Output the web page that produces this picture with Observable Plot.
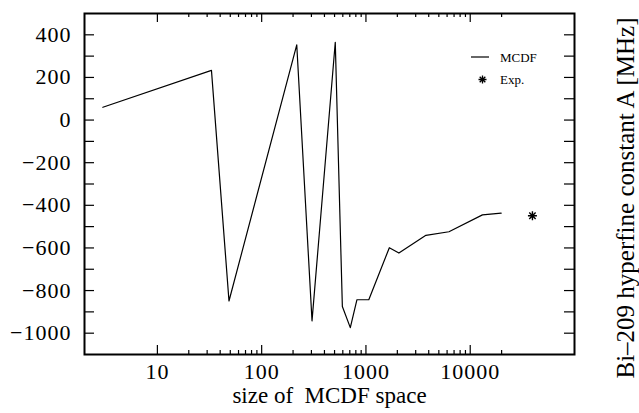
<!DOCTYPE html>
<html><head><meta charset="utf-8">
<script src="https://cdn.jsdelivr.net/npm/d3@7"></script>
<script src="https://cdn.jsdelivr.net/npm/@observablehq/plot@0.6"></script>
<style>
body{margin:0;background:#fff;}
#chart{width:639px;height:413px;}
g[aria-label$="tick label"]{letter-spacing:1px;}
</style></head><body><div id="chart"></div>
<script>
// MCDF calculations: size of MCDF space vs hyperfine constant A [MHz]
const sizes = [3, 33, 48.6, 217, 304, 508, 594, 708, 820, 1065, 1676, 2070, 3760, 6250, 13100, 19800];
const mcdfA = [60, 233, -849, 353, -942, 365, -875, -974, -843, -843, -599, -624, -541, -524, -445, -437];
// Experimental value
const expSize = [39500];
const expA = [-449];
// Ticks
const xTickValues = [10, 100, 1000, 10000];
const xMinorTicks = [20, 30, 40, 50, 60, 70, 80, 90, 200, 300, 400, 500, 600, 700, 800, 900,
  2000, 3000, 4000, 5000, 6000, 7000, 8000, 9000, 20000];
const yTickValues = [400, 200, 0, -200, -400, -600, -800, -1000];
const yAllTicks = [400, 300, 200, 100, 0, -100, -200, -300, -400, -500, -600, -700, -800, -900, -1000];
const xLabel = "size of\u00a0 MCDF space";
const yLabel = "Bi\u2013209 hyperfine constant A [MHz]";
const legendLabels = ["MCDF", "Exp."];

const mcdf = sizes.map((s, i) => ({size: s, A: mcdfA[i]}));
const exp = expSize.map((s, i) => ({size: s, A: expA[i]}));

const W = 639, H = 413, mL = 84, mR = 65, mT = 13, mB = 59;
const fw = W - mL - mR, fh = H - mT - mB;

const star8 = {
  draw(ctx, size) {
    const r = Math.sqrt(size / Math.PI), d = r * Math.SQRT1_2;
    ctx.moveTo(-r, 0); ctx.lineTo(r, 0);
    ctx.moveTo(0, -r); ctx.lineTo(0, r);
    ctx.moveTo(-d, -d); ctx.lineTo(d, d);
    ctx.moveTo(-d, d); ctx.lineTo(d, -d);
  }
};

const chart = Plot.plot({
  width: W, height: H,
  marginLeft: mL, marginRight: mR, marginTop: mT, marginBottom: mB,
  style: {fontFamily: "'Liberation Serif', 'Times New Roman', serif", fontSize: "22px", color: "black", background: "white"},
  x: {type: "log", domain: [2, 100000]},
  y: {domain: [-1100, 500]},
  marks: [
    // inward ticks
    Plot.ruleX(xTickValues, {x: d => d, insetTop: fh - 9, stroke: "black", strokeWidth: 1.2}),
    Plot.ruleX(xTickValues, {x: d => d, insetBottom: fh - 9, stroke: "black", strokeWidth: 1.2}),
    Plot.ruleX(xMinorTicks, {x: d => d, insetTop: fh - 4, stroke: "black", strokeWidth: 1.2}),
    Plot.ruleX(xMinorTicks, {x: d => d, insetBottom: fh - 4, stroke: "black", strokeWidth: 1.2}),
    Plot.ruleY(yAllTicks, {y: d => d, insetRight: fw - 10, stroke: "black", strokeWidth: 1.2}),
    Plot.ruleY(yAllTicks, {y: d => d, insetLeft: fw - 10, stroke: "black", strokeWidth: 1.2}),
    Plot.axisX(xTickValues, {tickSize: 0, tickPadding: 9, tickFormat: d => String(d), label: null}),
    Plot.axisY(yTickValues, {tickSize: 0, tickPadding: 13, label: null,
      tickFormat: d => (d < 0 ? "\u2212" : "") + String(Math.abs(d))}),
    Plot.frame({stroke: "black", strokeWidth: 2}),
    Plot.line(mcdf, {x: "size", y: "A", stroke: "black", strokeWidth: 1.2}),
    Plot.dot(exp, {x: "size", y: "A", symbol: star8, r: 4.5, fill: "none", stroke: "black", strokeWidth: 1.4}),
    Plot.text([xLabel], {text: d => d, frameAnchor: "bottom", textAnchor: "middle", dy: 48, lineAnchor: "bottom", fontSize: 23}),
    Plot.text([yLabel], {text: d => d, frameAnchor: "right", textAnchor: "middle", rotate: -90, dx: 59, dy: 14, lineAnchor: "bottom", fontSize: 25})
  ]
});
document.getElementById("chart").appendChild(chart);

// legend (inside the frame, top-right)
const svg = d3.select(chart);
const lg = svg.append("g").attr("font-size", 13).attr("text-anchor", "start").attr("font-family", "'Liberation Serif', serif");
lg.append("line").attr("x1", 471).attr("x2", 489).attr("y1", 57).attr("y2", 57).attr("stroke", "black").attr("stroke-width", 1.2);
lg.append("text").attr("x", 500).attr("y", 62).text(legendLabels[0]);
lg.append("path").attr("transform", "translate(482.5,79.5)").attr("d", d3.symbol(star8, Math.PI * 16)()).attr("fill", "none").attr("stroke", "black").attr("stroke-width", 1.3);
lg.append("text").attr("x", 500).attr("y", 84).text(legendLabels[1]);
</script></body></html>
